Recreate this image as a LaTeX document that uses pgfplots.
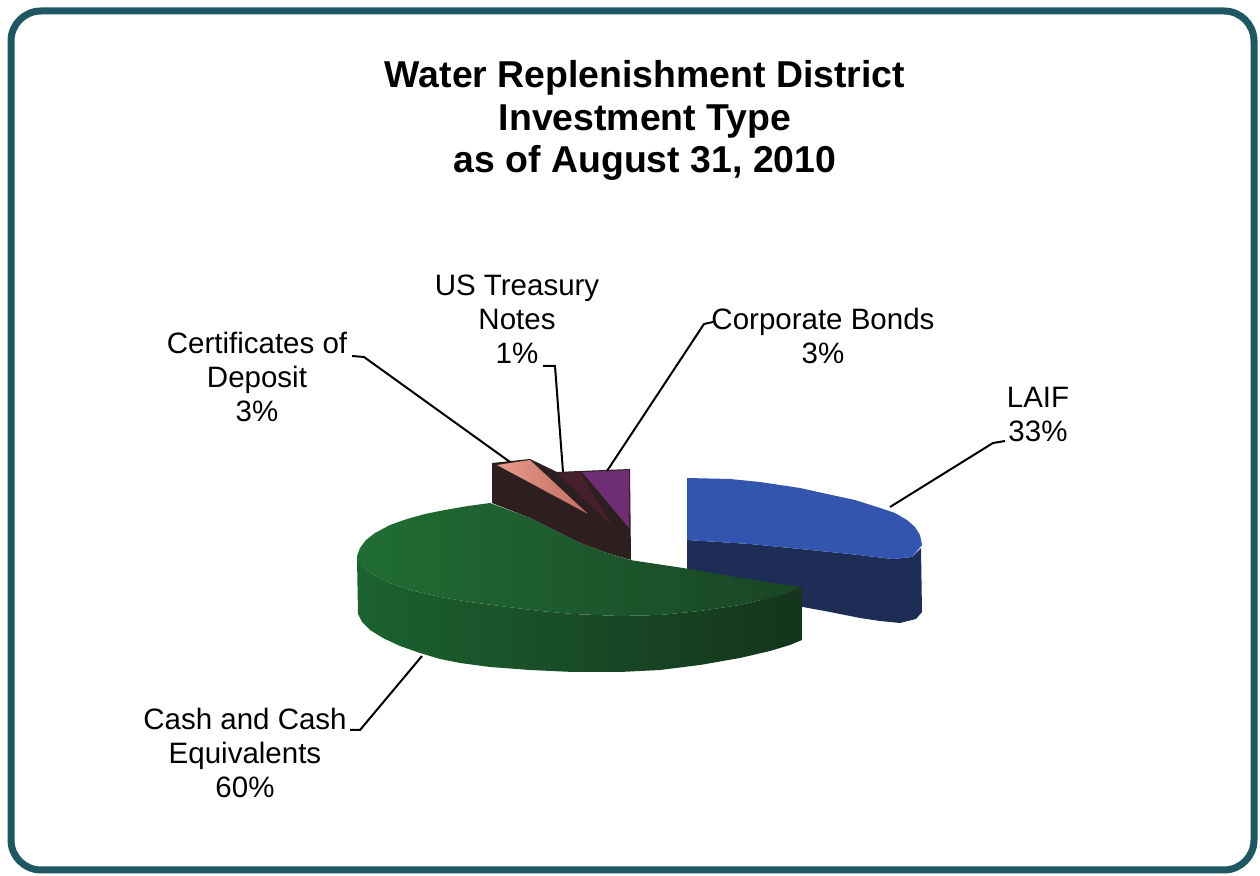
\documentclass[border=0pt]{standalone}
\usepackage{pgfplots}
\pgfplotsset{compat=1.18}
\usepackage{fontspec}
\setmainfont{Liberation Sans}
\definecolor{framec}{HTML}{1F5763}
\definecolor{gtopL}{HTML}{206D34}
\definecolor{gtopR}{HTML}{1A4524}
\definecolor{gsideL}{HTML}{1C6230}
\definecolor{gsideR}{HTML}{14341C}
\definecolor{btop}{HTML}{3355AF}
\definecolor{bside}{HTML}{1E2D55}
\definecolor{wallc}{HTML}{2D1E20}
\definecolor{pinkL}{HTML}{E89A8C}
\definecolor{pinkR}{HTML}{C06E62}
\definecolor{ustc}{HTML}{45202C}
\definecolor{corpc}{HTML}{6F2E74}
\newcommand{\lbl}{\fontsize{14.75}{17}\selectfont}
\newcommand{\ttl}{\fontsize{18.7}{21}\selectfont\bfseries}
\begin{document}
\begin{tikzpicture}
\begin{axis}[hide axis, scale only axis, width=630pt, height=438pt,
  xmin=0, xmax=1260, ymin=0, ymax=876, y dir=reverse, clip=false]
\path (axis cs:0,0) rectangle (axis cs:1260,876);
% LAIF (33%) side and top
\addplot[draw=none, fill=bside] coordinates {(687,540)(750,544)(800,549)(850,554)(893,559)(912,557)(921,548)(922,612)(916,619)(900,623)(880,621)(860,618)(830,612)(803,607)(760,600)(687,592)} --cycle;
\addplot[draw=none, fill=btop] coordinates {(687,478)(730,479)(760,482)(800,488)(827,494)(855,500)(877,507)(895,513)(907,520)(915,527)(920,535)(922,545)(912,557)(893,559)(850,554)(800,549)(750,544)(687,540)} --cycle;
% small slices: wall
\addplot[draw=none, fill=wallc] coordinates {(492,463)(530,459)(557,472)(580,471)(630,469)(631,560)(607,553)(580,543)(530,518)(492,503)} --cycle;
% Certificates of Deposit (3%)
\addplot[draw=none, shading=axis, left color=pinkL, right color=pinkR] coordinates {(497,465)(530,460)(588,514)} --cycle;
% US Treasury Notes (1%)
\addplot[draw=none, fill=ustc] coordinates {(557,473)(580,472)(613,527)} --cycle;
% Corporate Bonds (3%)
\addplot[draw=none, fill=corpc] coordinates {(582,472)(629,470)(629,528)} --cycle;
% Cash and Cash Equivalents (60%) side and top
\addplot[draw=none, shading=axis, left color=gsideL, right color=gsideR] coordinates {(357,558)(362,566)(372,574)(390,583)(410,590)(440,597)(470,602)(500,606)(540,611)(573,614)(620,616)(660,615)(700,611)(740,605)(770,598)(790,592)(802,587)(802,640)(790,645)(770,651)(740,658)(700,665)(660,670)(620,672)(573,672)(530,670)(490,667)(460,663)(440,659)(420,653)(400,646)(383,638)(370,630)(362,622)(358,614)} --cycle;
\addplot[draw=none, shading=axis, left color=gtopL, right color=gtopR] coordinates {(357,556)(360,548)(366,540)(375,533)(390,525)(407,519)(425,514)(445,510)(468,506)(490,503)(530,518)(580,543)(607,553)(630,560)(683,568)(740,578)(801,587)(790,592)(770,598)(740,605)(700,611)(660,615)(620,616)(573,614)(540,611)(500,606)(470,602)(440,597)(410,590)(390,583)(372,574)(362,566)(357,560)} --cycle;
% leader lines
\addplot[black, line width=1pt] coordinates {(352,356)(364,357)(510,462)};
\addplot[black, line width=1pt] coordinates {(543,366)(555,366)(563,472)};
\addplot[black, line width=1pt] coordinates {(713,322)(704,324)(607,471)};
\addplot[black, line width=1pt] coordinates {(1005,441)(993,443)(890,507)};
\addplot[black, line width=1pt] coordinates {(350,730)(360,730)(422,656)};
% title
\node[anchor=base, font=\ttl] at (axis cs:645,88) {Water Replenishment District};
\node[anchor=base, font=\ttl] at (axis cs:645,131) {Investment Type};
\node[anchor=base, font=\ttl] at (axis cs:645,173) {as of August 31, 2010};
% labels
\node[anchor=base, font=\lbl] at (axis cs:257,354) {Certificates of};
\node[anchor=base, font=\lbl] at (axis cs:257,388) {Deposit};
\node[anchor=base, font=\lbl] at (axis cs:257,422) {3\%};
\node[anchor=base, font=\lbl] at (axis cs:517,296) {US Treasury};
\node[anchor=base, font=\lbl] at (axis cs:517,330) {Notes};
\node[anchor=base, font=\lbl] at (axis cs:517,364) {1\%};
\node[anchor=base, font=\lbl] at (axis cs:823,330) {Corporate Bonds};
\node[anchor=base, font=\lbl] at (axis cs:823,364) {3\%};
\node[anchor=base, font=\lbl] at (axis cs:1038,408) {LAIF};
\node[anchor=base, font=\lbl] at (axis cs:1038,442) {33\%};
\node[anchor=base, font=\lbl] at (axis cs:245,730) {Cash and Cash};
\node[anchor=base, font=\lbl] at (axis cs:245,764) {Equivalents};
\node[anchor=base, font=\lbl] at (axis cs:245,798) {60\%};
% frame
\draw[framec, line width=3.5pt, rounded corners=15pt] (axis cs:11,11) rectangle (axis cs:1254,870);
\end{axis}
\end{tikzpicture}
\end{document}
